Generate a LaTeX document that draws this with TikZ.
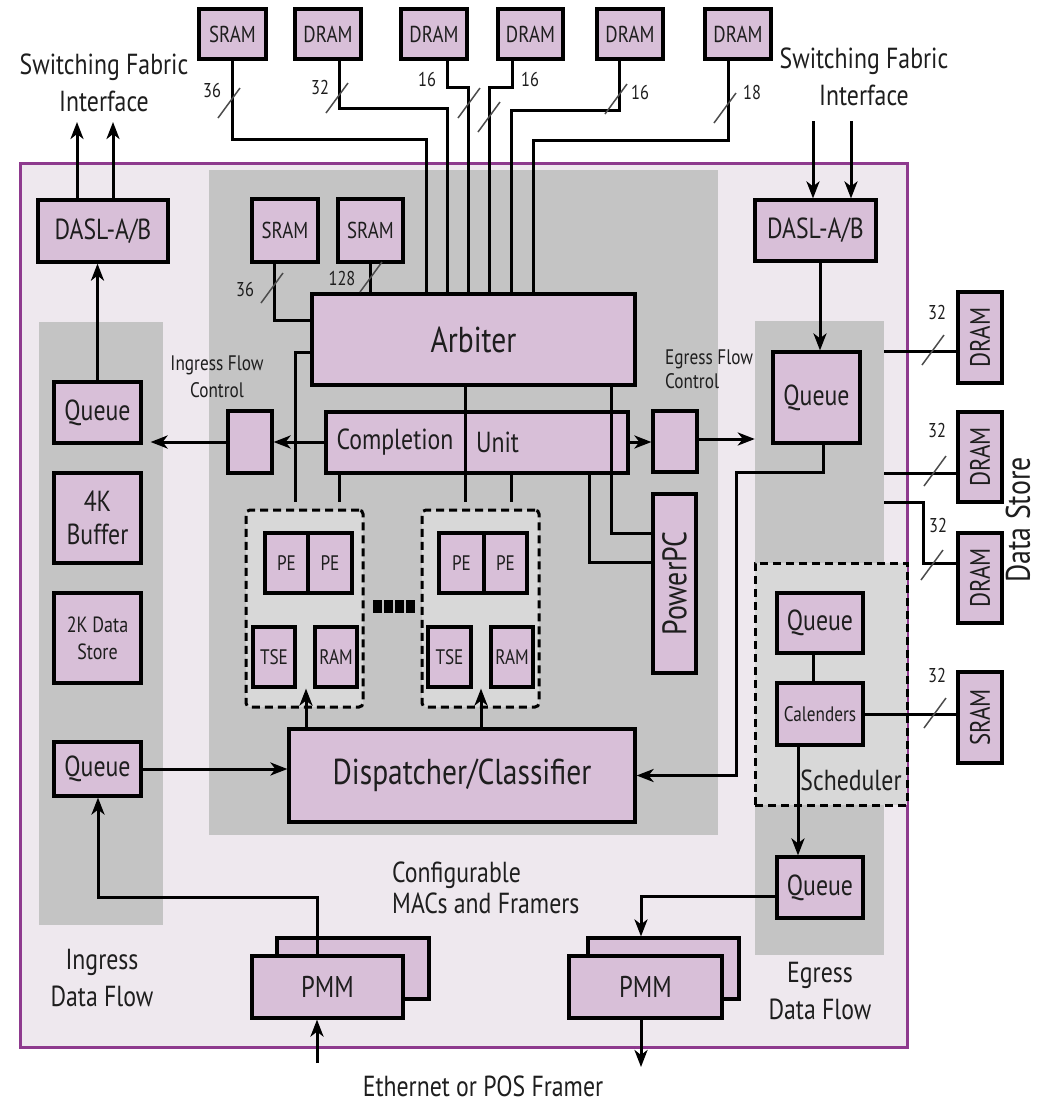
\documentclass[tikz,border=0pt]{standalone}
\usepackage{fontspec}
\setmainfont{PT Sans}[FakeStretch=0.82]
\usetikzlibrary{arrows.meta}
\definecolor{boxfill}{HTML}{D8BFD8}
\definecolor{chipfill}{HTML}{EEE8EE}
\definecolor{chipline}{HTML}{8E3A8E}
\definecolor{coregray}{HTML}{C4C4C4}
\definecolor{lightgr}{HTML}{D8D8D8}
\definecolor{txt}{HTML}{1E1E1E}
\newcommand\fsz[2]{\fontsize{#1}{#2}\selectfont}
\newcommand\mybox[7][box]{\node[#1, minimum width={#4-#2}, minimum height={#5-#3}] (#6) at ({(#2+#4)/2},{(#3+#5)/2}) {#7};}
\newcommand\busmark[2]{\draw[slashm] ({#1-11},{#2+15}) -- ({#1+11},{#2-15});}
\begin{document}
\begin{tikzpicture}[x=1pt,y=-1pt,
 box/.style={draw=black,line width=3.2pt,fill=boxfill,inner sep=0pt,text=txt,align=center,font=\fsz{28}{30}},
 region/.style={draw=none,fill=#1,inner sep=0pt},
 dbox/.style={draw=black,line width=3pt,dash pattern=on 8pt off 5pt,fill=lightgr,inner sep=0pt},
 con/.style={draw=black,line width=3pt},
 arr/.style={con,-{Stealth[length=17pt,width=13pt,inset=5pt]}},
 slashm/.style={draw=black!70,line width=1.5pt},
 num/.style={text=txt,font=\fsz{20}{22},inner sep=0pt},
 lbl/.style={text=txt,align=center,inner sep=0pt},
]
\useasboundingbox (0,0) rectangle (1041,1104);
\fill[white] (0,0) rectangle (1041,1104);

% regions
\mybox[region=chipfill,draw=chipline,line width=3pt]{20}{163}{907}{1047}{chip}{}
\mybox[region=coregray]{209}{170}{718}{835}{core}{}
\mybox[region=coregray]{39}{322}{163}{925}{igcol}{}
\mybox[region=coregray]{755}{321}{884}{955}{egcol}{}
\mybox[dbox]{755}{563}{907}{805}{sched}{}
\mybox[dbox,rounded corners=4pt]{246}{510}{363}{707}{pb1}{}
\mybox[dbox,rounded corners=4pt]{422}{510}{539}{707}{pb2}{}

% top memories
\mybox[box,font=\fsz{23}{25}]{199}{9}{266}{59}{sT}{SRAM}
\mybox[box,font=\fsz{23}{25}]{295}{9}{361}{59}{d1}{DRAM}
\mybox[box,font=\fsz{23}{25}]{401}{9}{467}{59}{d2}{DRAM}
\mybox[box,font=\fsz{23}{25}]{498}{9}{563}{59}{d3}{DRAM}
\mybox[box,font=\fsz{23}{25}]{597}{9}{663}{59}{d4}{DRAM}
\mybox[box,font=\fsz{23}{25}]{705}{9}{771}{59}{d5}{DRAM}

% core
\mybox[box,font=\fsz{23}{25}]{252}{199}{318}{262}{s1}{SRAM}
\mybox[box,font=\fsz{23}{25}]{338}{199}{403}{262}{s2}{SRAM}
\mybox[box,font=\fsz{36}{38}]{312}{294}{635}{385}{arb}{Arbiter}
\mybox{326}{412}{628}{473}{cu}{}
\mybox{228}{411}{272}{473}{ifc}{}
\mybox{653}{411}{697}{472}{efc}{}
\mybox{653}{494}{696}{673}{ppc}{}
\mybox[box,font=\fsz{21}{23}]{265}{533}{308}{593}{pe1a}{PE}
\mybox[box,font=\fsz{21}{23}]{308}{533}{352}{593}{pe1b}{PE}
\mybox[box,font=\fsz{21}{23}]{253}{627}{295}{687}{tse1}{TSE}
\mybox[box,font=\fsz{21}{23}]{315}{627}{357}{687}{ram1}{RAM}
\mybox[box,font=\fsz{21}{23}]{439}{533}{484}{593}{pe2a}{PE}
\mybox[box,font=\fsz{21}{23}]{484}{533}{527}{593}{pe2b}{PE}
\mybox[box,font=\fsz{21}{23}]{428}{627}{471}{687}{tse2}{TSE}
\mybox[box,font=\fsz{21}{23}]{491}{627}{533}{687}{ram2}{RAM}
\mybox[box,font=\fsz{36}{38}]{289}{729}{635}{822}{disp}{Dispatcher/Classifier}
\foreach \xx in {373,384,395,406} \fill[black] (\xx,600) rectangle ++(8.5,13);

% ingress side
\mybox[box,font=\fsz{29}{31}]{38}{200}{168}{262}{ldasl}{DASL-A/B}
\mybox[box,font=\fsz{29}{31}]{54}{382}{141}{443}{lq1}{Queue}
\mybox[box,font=\fsz{29}{33}]{54}{473}{141}{563}{buf}{4K\\Buffer}
\mybox[box,font=\fsz{22}{27}]{54}{593}{141}{683}{ds2k}{2K Data\\Store}
\mybox[box,font=\fsz{29}{31}]{54}{742}{141}{796}{lq2}{Queue}

% egress side
\mybox[box,font=\fsz{29}{31}]{755}{200}{876}{261}{rdasl}{DASL-A/B}
\mybox[box,font=\fsz{29}{31}]{773}{352}{860}{443}{rq1}{Queue}
\mybox[box,font=\fsz{29}{31}]{777}{593}{863}{653}{sq}{Queue}
\mybox[box,font=\fsz{21}{23}]{777}{683}{863}{745}{cal}{Calenders}
\mybox[box,font=\fsz{29}{31}]{777}{857}{863}{918}{eq2}{Queue}
\mybox{958}{292}{1002}{383}{rd1}{}
\mybox{958}{412}{1002}{502}{rd2}{}
\mybox{958}{533}{1002}{623}{rd3}{}
\mybox{958}{672}{1002}{763}{rs}{}

% PMMs
\mybox{277}{938}{429}{999}{pmmLb}{}
\mybox[box,font=\fsz{30}{32}]{252}{956}{403}{1018}{pmmLf}{PMM}
\mybox{588}{938}{739}{999}{pmmRb}{}
\mybox[box,font=\fsz{30}{32}]{569}{956}{722}{1018}{pmmRf}{PMM}

% free ends
\coordinate (outL1) at (77,122);
\coordinate (outL2) at (113,122);
\coordinate (inR1) at (813,121);
\coordinate (inR2) at (851,121);
\coordinate (inEth) at (317,1063);
\coordinate (outEth) at (641,1067);

% top buses
\draw[con] (sT.south) |- (426,139) -- (426,0 |- arb.north);
\draw[con] (339,0 |- d1.south) |- (447,108) -- (447,0 |- arb.north);
\draw[con] (447,0 |- d2.south) |- (468,87) -- (468,0 |- arb.north);
\draw[con] (512,0 |- d3.south) |- (489,87) -- (489,0 |- arb.north);
\draw[con] (619,0 |- d4.south) |- (511,110) -- (511,0 |- arb.north);
\draw[con] (728,0 |- d5.south) |- (533,140) -- (533,0 |- arb.north);
\draw[con] (274,0 |- s1.south) |- (arb.west |- 0,320);
\draw[con] (370,0 |- s2.south) -- (370,0 |- arb.north);

% arbiter / completion unit to processors
\draw[con,shorten >=7pt] (arb.west |- 0,352) -| (295,0 |- pb1.north);
\draw[con,shorten >=7pt] (339,0 |- cu.south) -- (339,0 |- pb1.north);
\draw[con,shorten >=7pt] (465,0 |- arb.south) -- (465,0 |- pb2.north);
\draw[con,shorten >=7pt] (511,0 |- cu.south) -- (511,0 |- pb2.north);
\draw[con] (611,0 |- arb.south) |- (ppc.west |- 0,533);
\draw[con] (589,0 |- cu.south) |- (ppc.west |- 0,562);

% flow control
\draw[arr] (cu.west |- 0,442) -- (ifc.east |- 0,442);
\draw[arr,shorten >=8pt] (ifc.west |- 0,442) -- (lq1.east |- 0,442);
\draw[arr] (cu.east |- 0,442) -- (efc.west |- 0,442);
\draw[arr] (efc.east |- 0,439) -- (egcol.west |- 0,439);

% fabric interface
\draw[arr] (77,0 |- ldasl.north) -- (outL1);
\draw[arr] (113,0 |- ldasl.north) -- (outL2);
\draw[arr] (lq1.north) -- (lq1.north |- ldasl.south);
\draw[arr] (inR1) -- (813,0 |- rdasl.north);
\draw[arr] (inR2) -- (851,0 |- rdasl.north);
\draw[arr] (820,0 |- rdasl.south) -- (820,0 |- rq1.north);

% data paths
\draw[arr] (823,0 |- rq1.south) |- (736,472) |- (disp.east);
\draw[arr] (lq2.east) -- (lq2.east -| disp.west);
\draw[arr] (317,0 |- pmmLf.north) |- (98,897) -- (98,0 |- lq2.south);
\draw[arr] (inEth) -- (317,0 |- pmmLf.south);
\draw[arr] (306,0 |- disp.north) -- (306,0 |- tse1.south);
\draw[arr] (481,0 |- disp.north) -- (481,0 |- tse2.south);
\draw[con] (813,0 |- sq.south) -- (813,0 |- cal.north);
\draw[arr] (798,0 |- cal.south) -- (798,0 |- eq2.north);
\draw[arr] (eq2.west |- 0,896) -| (641,0 |- pmmRb.north);
\draw[arr] (641,0 |- pmmRf.south) -- (outEth);

% data store
\draw[con] (egcol.east |- 0,351) -- (rd1.west |- 0,351);
\draw[con] (egcol.east |- 0,473) -- (rd2.west |- 0,473);
\draw[con] (egcol.east |- 0,502) -| (923,563) -- (rd3.west |- 0,563);
\draw[con] (cal.east) -- (rs.west |- cal.east);

% bus width marks
\busmark{229}{103}\busmark{337}{98}\busmark{469}{103}\busmark{489}{117}
\busmark{616}{99}\busmark{725}{108}\busmark{272}{288}\busmark{371}{277}
\busmark{933}{350}\busmark{935}{471}\busmark{932}{565}\busmark{935}{713}
\node[num] (n1) at (212,90) {36};
\node[num] (n2) at (320,87) {32};
\node[num] (n3) at (427,79) {16};
\node[num] (n4) at (530,79) {16};
\node[num] (n5) at (640,92) {16};
\node[num] (n6) at (752,92) {18};
\node[num] (n7) at (245,289) {36};
\node[num] (n8) at (342,278) {128};
\node[num] (n9) at (937,312) {32};
\node[num] (n10) at (937,430) {32};
\node[num] (n11) at (938,525) {32};
\node[num] (n12) at (937,675) {32};

% texts inside boxes
\node[lbl,font=\fsz{29}{31}] (cuT1) at (395,442) {Completion};
\node[lbl,font=\fsz{29}{31}] (cuT2) at (497.5,442) {Unit};
\node[lbl,rotate=90,font=\fsz{34}{36}] (ppcT) at (ppc) {PowerPC};
\node[lbl,rotate=90,font=\fsz{28}{30}] (rd1T) at (rd1) {DRAM};
\node[lbl,rotate=90,font=\fsz{28}{30}] (rd2T) at (rd2) {DRAM};
\node[lbl,rotate=90,font=\fsz{28}{30}] (rd3T) at (rd3) {DRAM};
\node[lbl,rotate=90,font=\fsz{28}{30}] (rsT) at (rs) {SRAM};

% labels
\node[lbl,font=\fsz{29}{37}] (swL) at (104,83) {Switching Fabric\\Interface};
\node[lbl,font=\fsz{29}{37}] (swR) at (864,77) {Switching Fabric\\Interface};
\node[lbl,font=\fsz{21}{27}] (ingfc) at (217,377) {Ingress Flow\\Control};
\node[lbl,font=\fsz{21}{24},align=left,anchor=west] (egfc) at (665,369) {Egress Flow\\Control};
\node[lbl,font=\fsz{29}{31},align=left,anchor=west] (conf) at (392,888) {Configurable\\MACs and Framers};
\node[lbl,font=\fsz{29}{37}] (ingdf) at (102,978) {Ingress\\Data Flow};
\node[lbl,font=\fsz{29}{37}] (egdf) at (820,991) {Egress\\Data Flow};
\node[lbl,font=\fsz{29}{31}] (eth) at (483,1086) {Ethernet or POS Framer};
\node[lbl,font=\fsz{29}{31}] (schT) at (851,780) {Scheduler};
\node[lbl,rotate=90,font=\fsz{34}{36}] (dsT) at (1018,520) {Data Store};
\end{tikzpicture}
\end{document}
